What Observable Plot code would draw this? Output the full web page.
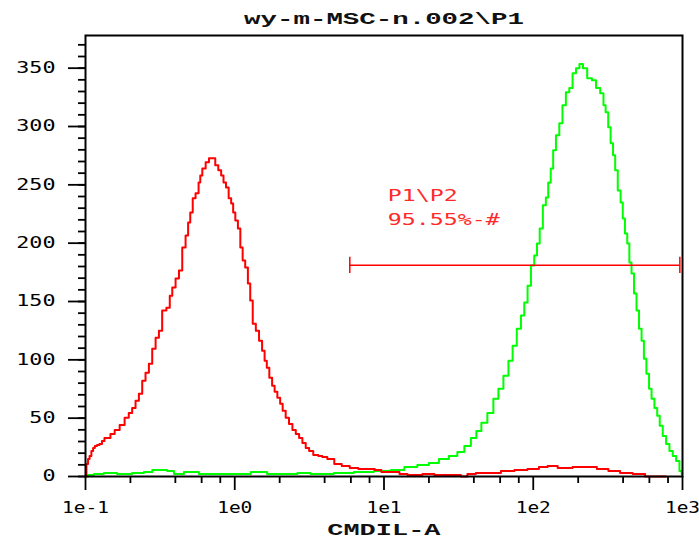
<!DOCTYPE html>
<html>
<head>
<meta charset="utf-8">
<script src="https://cdn.jsdelivr.net/npm/d3@7"></script>
<script src="https://cdn.jsdelivr.net/npm/@observablehq/plot@0.6"></script>
<style>
  html, body { margin: 0; padding: 0; background: #fff; }
  #chart svg { display: block; }
</style>
</head>
<body>
<div id="chart"></div>
<script>
// ---------- text ----------
const titleText = "wy-m-MSC-n.002\\P1";
const xLabelText = "CMDIL-A";

// ---------- axes ----------
const xTicks = [0.1, 1, 10, 100, 1000];
const xTickLabels = ["1e-1", "1e0", "1e1", "1e2", "1e3"];
const xMinorTicks = [0.2, 0.4, 0.6, 0.8, 2, 4, 6, 8, 20, 40, 60, 80, 200, 400, 600, 800];
const yTicks = [0, 50, 100, 150, 200, 250, 300, 350];
const yMinorTicks = [0, 10, 20, 30, 40, 50, 60, 70, 80, 90, 100, 110, 120, 130, 140, 150, 160, 170, 180, 190,
  200, 210, 220, 230, 240, 250, 260, 270, 280, 290, 300, 310, 320, 330, 340, 350, 360, 370];
const xDomain = [0.1, 1000];
const yDomain = [0, 378];

// ---------- red histogram (unstained) ----------
const redX = [
  0.1, 0.103, 0.105, 0.108, 0.111, 0.114, 0.117, 0.122, 0.126, 0.132,
  0.136, 0.143, 0.151, 0.163, 0.176, 0.190, 0.200, 0.211, 0.222, 0.234,
  0.246, 0.259, 0.273, 0.287, 0.303, 0.318, 0.335, 0.362, 0.372, 0.391,
  0.412, 0.434, 0.456, 0.481, 0.493, 0.514, 0.532, 0.561, 0.584, 0.591,
  0.622, 0.655, 0.689, 0.725, 0.756, 0.796, 0.826, 0.856, 0.892, 0.929,
  0.964, 0.988, 1.03, 1.07, 1.11, 1.15, 1.20, 1.25, 1.29, 1.35,
  1.42, 1.49, 1.56, 1.61, 1.67, 1.74, 1.82, 1.88, 1.98, 2.05,
  2.14, 2.25, 2.37, 2.50, 2.63, 2.77, 2.91, 3.07, 3.23, 3.49,
  3.77, 3.95, 4.40, 4.90, 5.54, 6.27, 7.21, 8.16, 9.23, 9.97,
  12.4, 13.0, 15.9, 20.6, 23.0, 31.3, 34.3, 38.2, 44.6, 54.5,
  67.7, 82.7, 101, 118, 132, 161, 209, 244, 292, 348,
  419, 512, 616, 776
];
const redY = [
  0, 10.7, 15.0, 17.6, 21.9, 24.5, 26.2, 27.1, 27.9, 30.5,
  33.1, 33.1, 36.5, 39.9, 44.2, 50.3, 54.5, 58.8, 64.9, 70.9,
  82.0, 88.9, 96.6, 109.5, 119.0, 125.0, 142.2, 144.7, 155.0, 161.9,
  169.7, 176.5, 196.3, 206.6, 217.8, 226.3, 238.4, 242.7, 252.1, 258.1,
  264.1, 269.3, 272.7, 272.7, 266.7, 262.4, 258.1, 252.1, 247.8, 238.4,
  234.1, 226.3, 219.5, 212.6, 196.3, 185.1, 179.1, 165.4, 150.8, 131.0,
  125.0, 116.4, 107.8, 99.2, 93.2, 84.6, 77.7, 72.6, 67.4, 62.3,
  56.3, 50.3, 45.1, 39.9, 36.5, 33.1, 28.8, 24.5, 21.9, 18.5,
  17.6, 16.8, 15.0, 10.7, 9.0, 7.3, 6.4, 6.4, 5.6, 3.9,
  3.9, 2.1, 1.3, 2.1, 1.3, 1.3, 0, 2.1, 3.0, 3.0,
  4.7, 5.6, 6.4, 8.2, 9.0, 7.3, 8.2, 8.2, 6.4, 4.7,
  3.0, 2.1, 0, 0
];

// ---------- green histogram (stained) ----------
const greenX = [
  0.1, 0.108, 0.120, 0.147, 0.180, 0.234, 0.259, 0.303, 0.334, 0.372,
  0.412, 0.506, 0.655, 0.842, 1.10, 1.49, 1.82, 2.25, 3.07, 3.38,
  3.95, 5.38, 7.32, 9.97, 12.4, 15.1, 18.5, 21.6, 25.2, 29.4,
  32.7, 36.5, 40.0, 43.2, 46.7, 52.0, 56.2, 60.7, 65.6, 70.9,
  74.6, 80.6, 84.9, 89.3, 94.0, 99.1, 104, 108, 113, 119,
  124, 128, 134, 138, 146, 153, 161, 170, 179, 188,
  199, 209, 222, 238, 257, 270, 292, 299, 312, 324,
  336, 349, 359, 378, 392, 404, 419, 434, 447, 464,
  483, 501, 522, 542, 561, 585, 609, 632, 665, 689,
  719, 756, 797, 839, 883, 930, 979, 995
];
const greenY = [
  0, 1.3, 2.1, 3.0, 2.1, 3.0, 3.9, 5.6, 5.6, 4.7,
  2.1, 3.9, 2.1, 2.1, 2.1, 3.9, 2.1, 2.1, 3.0, 2.1,
  2.1, 3.0, 3.9, 4.7, 5.6, 8.2, 9.9, 11.6, 15.0, 17.6,
  21.0, 26.2, 33.1, 39.1, 46.0, 54.5, 66.6, 75.2, 86.3, 99.2,
  112.1, 126.7, 137.9, 149.1, 163.6, 180.8, 189.4, 199.7, 212.6, 232.4,
  239.2, 252.1, 264.1, 279.6, 292.5, 302.8, 318.3, 329.4, 332.9, 345.7,
  350.0, 353.5, 350.0, 341.4, 339.7, 332.9, 328.6, 318.3, 312.3, 299.4,
  285.6, 275.3, 262.4, 245.2, 234.9, 221.2, 208.3, 199.7, 183.4, 174.0,
  156.8, 142.2, 126.7, 116.4, 100.9, 88.0, 75.2, 66.6, 58.8, 52.0,
  43.4, 34.8, 27.9, 21.9, 17.6, 13.3, 4.7, 2.1
];

// ---------- gate P2 ----------
const gateX = [5.9, 960];
const gateY = 181;
const gateCapY = [174, 188];
const gateLabels = ["P1\\P2", "95.55%-#"];
const gateLabelX = [10.6, 10.6];
const gateLabelY = [240, 219.5];

// ---------- build ----------
const red = redX.map((x, i) => ({x, y: redY[i]}));
const green = greenX.map((x, i) => ({x, y: greenY[i]}));
const gateText = gateLabels.map((t, i) => ({t, x: gateLabelX[i], y: gateLabelY[i]}));

const tickFont = "'DejaVu Sans Mono', monospace";
const headFont = "'Liberation Mono', 'DejaVu Sans Mono', monospace";

const chart = Plot.plot({
  width: 699,
  height: 539,
  marginLeft: 85,
  marginRight: 17,
  marginTop: 35,
  marginBottom: 63,
  style: {fontFamily: tickFont, fontSize: "15px", color: "#000", background: "#fff", overflow: "visible"},
  x: {type: "log", domain: xDomain, label: null},
  y: {domain: yDomain, label: null},
  marks: [
    Plot.line(green, {x: "x", y: "y", curve: "step", stroke: "#00ff00", strokeWidth: 2}),
    Plot.line(red, {x: "x", y: "y", curve: "step", stroke: "#ff0000", strokeWidth: 2}),
    Plot.ruleY([gateY], {x1: gateX[0], x2: gateX[1], stroke: "#ff0000", strokeWidth: 1.5}),
    Plot.ruleX(gateX, {x: d => d, y1: gateCapY[0], y2: gateCapY[1], stroke: "#ff0000", strokeWidth: 1.5}),
    Plot.text(gateText, {x: "x", y: "y", text: "t", textAnchor: "start", fill: "#ff2a2a",
      fontFamily: tickFont, fontSize: 15}),
    Plot.axisX(xMinorTicks, {tickSize: 7, tickFormat: () => "", label: null, strokeWidth: 1.8}),
    Plot.axisX(xTicks, {tickSize: 14, tickPadding: 12, label: null, strokeWidth: 1.8, fontSize: 15,
      tickFormat: d => xTickLabels[xTicks.indexOf(d)]}),
    Plot.axisY(yMinorTicks, {tickSize: 7, tickFormat: () => "", label: null, strokeWidth: 1.8}),
    Plot.axisY(yTicks, {tickSize: 17, tickPadding: 13, label: null, strokeWidth: 1.8, fontSize: 15}),
    Plot.frame({stroke: "#000", strokeWidth: 2}),
    Plot.text([titleText], {frameAnchor: "top", lineAnchor: "middle", dy: -17, fontFamily: headFont,
      fontWeight: "bold", fontSize: 17, fill: "#111"}),
    Plot.text([xLabelText], {frameAnchor: "bottom", lineAnchor: "middle", dy: 53, fontFamily: headFont,
      fontWeight: "bold", fontSize: 16, fill: "#111"})
  ]
});
document.getElementById("chart").append(chart);

// widen the glyphs horizontally (the instrument font is very wide)
function stretchText(t, s) {
  const b = t.getBBox();
  const anchor = getComputedStyle(t).textAnchor;
  const px = anchor === "middle" ? b.x + b.width / 2 : anchor === "end" ? b.x + b.width : b.x;
  const tr = t.getAttribute("transform") || "";
  t.setAttribute("transform", `${tr} translate(${px},0) scale(${s},1) translate(${-px},0)`);
}
const targetWidths = new Map([[titleText, 280], [xLabelText, 114]]);
chart.querySelectorAll("text").forEach(t => {
  const s = t.textContent;
  if (targetWidths.has(s)) {
    stretchText(t, targetWidths.get(s) / t.getBBox().width);
  } else if (gateLabels.includes(s)) {
    stretchText(t, 1.55);
  } else if (xTickLabels.includes(s)) {
    stretchText(t, 1.3);
  } else if (yTicks.map(String).includes(s)) {
    stretchText(t, 1.45);
  }
});
</script>
</body>
</html>
